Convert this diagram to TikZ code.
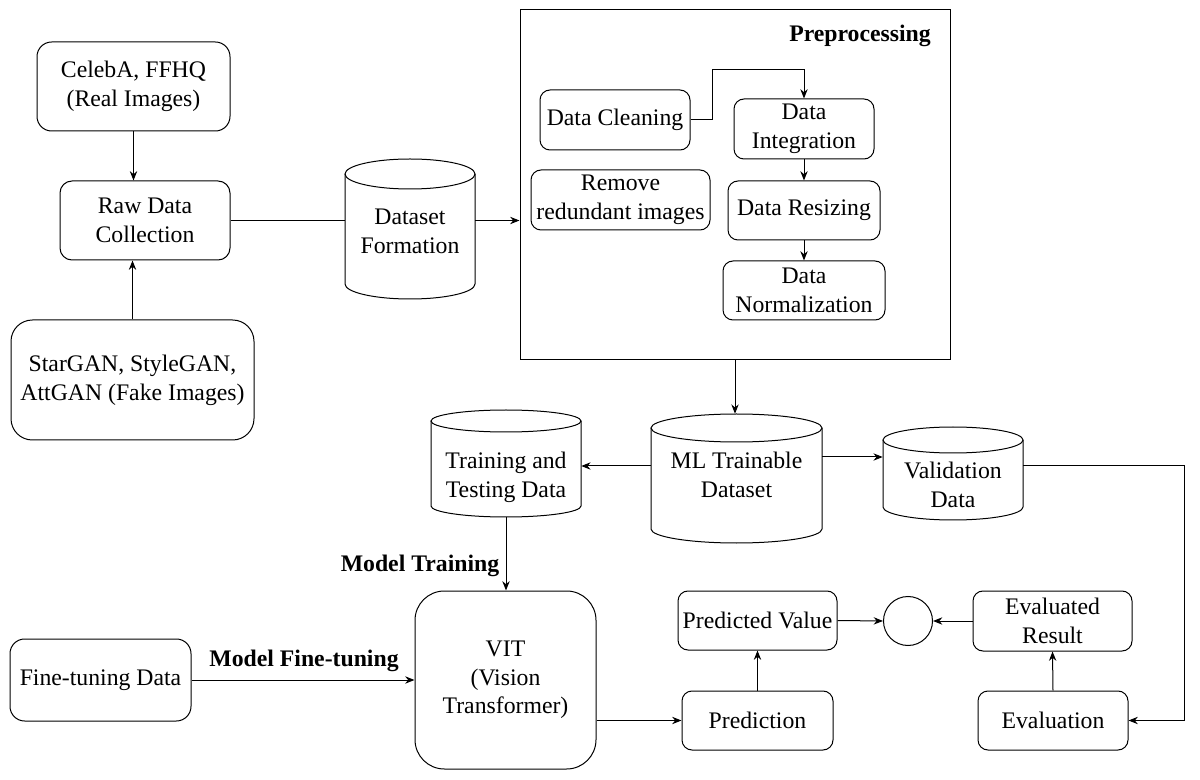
\documentclass[tikz,border=0pt]{standalone}
\usepackage{fontspec}
\setmainfont{Liberation Serif}
\usetikzlibrary{arrows.meta,calc}
\begin{document}
\begin{tikzpicture}[x=0.75pt,y=-0.75pt,
  every node/.style={font=\fontsize{17.8}{21.5}\selectfont, align=center, inner sep=0pt},
  box/.style={draw, line width=0.75pt, rounded corners=7.5pt},
  arr/.style={-{Stealth[length=7pt,width=5.5pt]}, line width=0.75pt},
  ln/.style={line width=0.75pt},
  lbl/.style={font=\fontsize{17.8}{21.5}\selectfont\bfseries}
]
\useasboundingbox (0,0) rectangle (1200,780);

% left column
\node[box, rounded corners=11pt, minimum width=144.75pt, minimum height=66.75pt] (celeb) at (133.5,86.5) {CelebA, FFHQ\\(Real Images)};
\node[box, rounded corners=9pt, minimum width=127.5pt, minimum height=59.25pt] (raw) at (145,220.5) {Raw Data\\Collection};
\node[box, rounded corners=16pt, minimum width=182.25pt, minimum height=90pt] (stargan) at (132.5,380) {StarGAN, StyleGAN,\\AttGAN (Fake Images)};

% dataset formation cylinder
\node[minimum width=97.5pt, minimum height=105pt] (dataset) at (410,229) {};
\draw[ln] (345,174) -- (345,284) arc[start angle=180,end angle=360,x radius=48.75pt,y radius=11.25pt] -- (475,174);
\draw[ln] (410,174) ellipse[x radius=48.75pt,y radius=11.25pt];
\node (datasettext) at (410,231.5) {Dataset\\Formation};

% preprocessing frame
\node[draw, line width=0.75pt, minimum width=322.5pt, minimum height=262.5pt] (prep) at (735,185) {};
\node[lbl] (preplabel) at (860,36) {Preprocessing};
\node[box, minimum width=112.5pt, minimum height=45pt] (clean) at (615,120) {Data Cleaning};
\node[box, minimum width=134.25pt, minimum height=45pt] (remove) at (620.5,200) {Remove\\redundant images};
\node[box, minimum width=105pt, minimum height=45pt] (integ) at (804,129) {Data\\Integration};
\node[box, minimum width=114pt, minimum height=44.25pt] (resize) at (804,210.5) {Data Resizing};
\node[box, minimum width=121.5pt, minimum height=44.25pt] (norm) at (804,290.5) {Data\\Normalization};

% cylinders middle row
\node[minimum width=112.5pt, minimum height=80.25pt] (training) at (506,463.5) {};
\draw[ln] (431,421) -- (431,506) arc[start angle=180,end angle=360,x radius=56.25pt,y radius=8.25pt] -- (581,421);
\draw[ln] (506,421) ellipse[x radius=56.25pt,y radius=8.25pt];
\node (trainingtext) at (506,477.5) {Training and\\Testing Data};

\node[minimum width=128.25pt, minimum height=96.75pt] (ml) at (736.5,478.5) {};
\draw[ln] (651,428) -- (651,529) arc[start angle=180,end angle=360,x radius=64.125pt,y radius=10.5pt] -- (822,428);
\draw[ln] (736.5,428) ellipse[x radius=64.125pt,y radius=10.5pt];
\node (mltext) at (736.5,475) {ML Trainable\\Dataset};

\node[minimum width=105pt, minimum height=69.75pt] (valid) at (953,473.5) {};
\draw[ln] (883,440) -- (883,507) arc[start angle=180,end angle=360,x radius=52.5pt,y radius=9.75pt] -- (1023,440);
\draw[ln] (953,440) ellipse[x radius=52.5pt,y radius=9.75pt];
\node (validtext) at (953,485) {Validation\\Data};

% bottom row
\node[box, rounded corners=11pt, minimum width=135.75pt, minimum height=61.5pt] (finetune) at (100.5,680) {Fine-tuning Data};
\node[box, rounded corners=22pt, minimum width=135.75pt, minimum height=133.5pt] (vit) at (505.5,680) {VIT\\(Vision\\Transformer)};
\node[box, minimum width=113.25pt, minimum height=44.25pt] (pred) at (757.5,720.5) {Prediction};
\node[box, minimum width=119.25pt, minimum height=44.25pt] (predval) at (757.5,620.5) {Predicted Value};
\node[draw, line width=0.75pt, circle, minimum size=36.75pt] (cmp) at (908,621) {};
\node[box, minimum width=119.25pt, minimum height=45pt] (evres) at (1052.5,621) {Evaluated\\Result};
\node[box, minimum width=112.5pt, minimum height=44.25pt] (eval) at (1053,720.5) {Evaluation};

\node[lbl] (mtlabel) at (420,566) {Model Training};
\node[lbl] (mflabel) at (304,661) {Model Fine-tuning};

% connectors
\draw[arr] (celeb.south) -- (celeb.south |- raw.north);
\draw[arr] (stargan.north) -- (stargan.north |- raw.south);
\draw[ln] (raw.east) -- (raw.east -| dataset.west);
\draw[arr] (raw.east -| dataset.east) -- (raw.east -| prep.west);

\coordinate (c1) at (804,70);
\draw[arr] (clean.east) -- ++(22,0) |- (c1) -- (integ.north);
\draw[arr] (integ.south) -- (resize.north);
\draw[arr] (resize.south) -- (norm.north);

\draw[arr] (prep.south) -- (prep.south |- ml.north);
\coordinate (mlL) at ($(ml.west)+(0,-12.5)$);
\draw[arr] (mlL) -- (mlL -| training.east);
\coordinate (mlR) at ($(ml.east)+(0,-21.5)$);
\draw[arr] (mlR) -- (mlR -| valid.west);
\coordinate (vR) at ($(valid.east)+(0,-7.5)$);
\draw[arr] (vR) -- ++(161,0) |- (eval.east);

\draw[arr] (training.south) -- (training.south |- vit.north);
\draw[arr] (finetune.east) -- (vit.west);
\draw[arr] (vit.east |- pred.west) -- (pred.west);
\draw[arr] (pred.north) -- (predval.south);
\draw[arr] (predval.east) -- (cmp.west);
\draw[arr] (evres.west) -- (cmp.east);
\draw[arr] (eval.north) -- (evres.south);
\end{tikzpicture}
\end{document}
